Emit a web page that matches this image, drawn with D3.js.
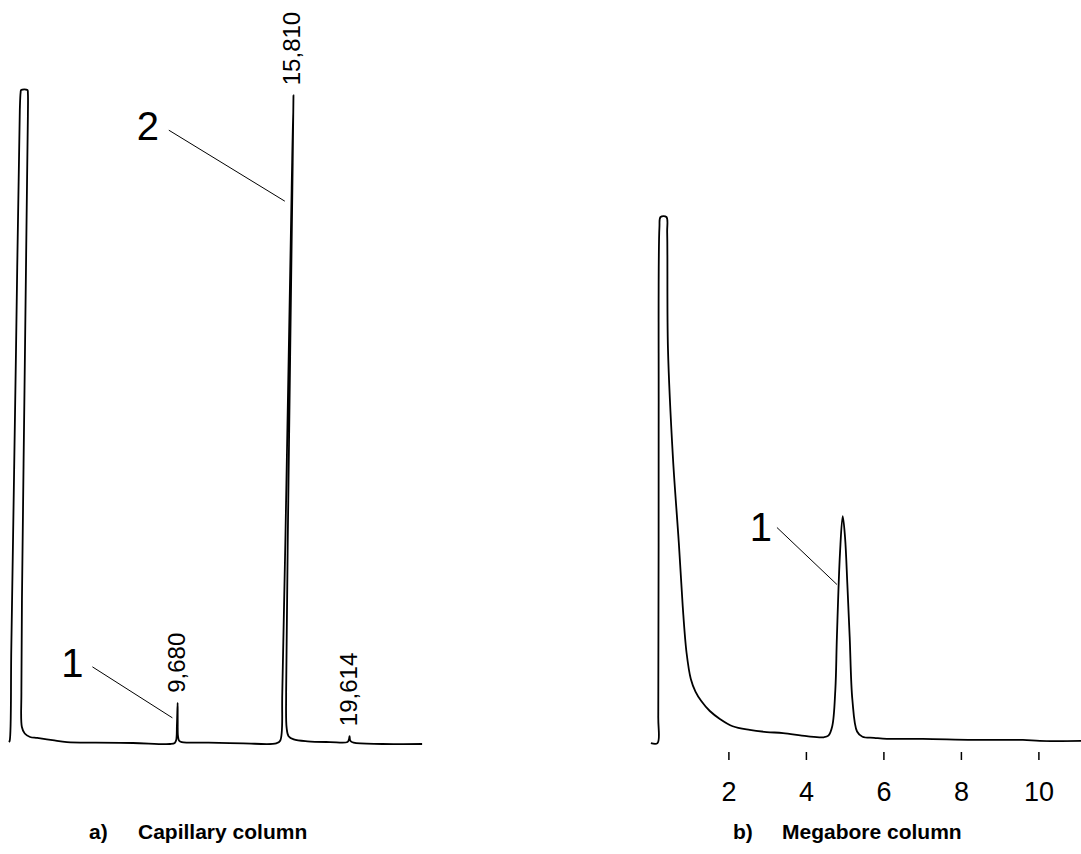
<!DOCTYPE html>
<html>
<head>
<meta charset="utf-8">
<script src="https://cdn.jsdelivr.net/npm/d3@7"></script>
<style>
    body { margin: 0; background: #fff; }
    svg text { font-family: Arial, "Liberation Sans", sans-serif; fill: #000; }
    .trace { fill: none; stroke: #000; stroke-width: 1.8; stroke-linejoin: round; }
    .leader { stroke: #000; stroke-width: 1; }
    .peak-number { font-size: 40px; text-anchor: middle; }
    .peak-time { font-size: 24px; }
    .axis text { font-size: 27px; }
    .axis line { stroke: #000; stroke-width: 1.5; }
    .caption { font-size: 21px; font-weight: bold; }
</style>
</head>
<body>
<div id="chart"></div>
<script>

// a) capillary column: retention time (min) / detector signal (% of scale)
const capTime = [0.00, 0.04, 0.05, 0.055, 0.06, 0.09, 0.12, 0.48, 0.51, 0.53, 0.54, 0.58, 0.62, 0.67, 0.73,
    0.90, 1.21, 1.62, 2.50, 3.34, 5.00, 7.14, 9.28, 9.55, 9.63, 9.66, 9.68, 9.70, 9.73, 9.80, 9.95,
    11.5, 13.5, 15.40, 15.62, 15.70, 15.75, 15.79, 15.81, 15.83, 15.87, 15.92, 15.98, 16.10, 16.40,
    17.2, 18.5, 19.50, 19.58, 19.614, 19.66, 19.85, 21.5, 23.8];
const capSignal = [0.3, 0.5, 15, 60, 97, 99.6, 100, 100, 99.5, 96, 86, 54, 22, 8, 2.6,
    1.6, 1.07, 0.92, 0.6, 0.3, 0.2, 0.15, 0.0, 0.15, 0.6, 3.0, 6.3, 3.5, 1.2, 0.5, 0.3,
    0.2, 0.1, 0.1, 0.5, 8, 40, 85, 99.2, 85, 40, 8, 2.5, 1.2, 0.7,
    0.4, 0.3, 0.3, 0.7, 1.2, 0.5, 0.2, 0.0, 0.0];
const capPeakTime = [9.680, 15.810, 19.614];
const capPeakLabel = ["9,680", "15,810", "19,614"];
const capNumberLabel = ["1", "2"];
const capNumberTime = [9.68, 15.81];
const capNumberLevel = [4, 83];

// b) megabore column: time (min) / detector signal (% of scale)
const megTime = [0.00, 0.17, 0.19, 0.20, 0.22, 0.25, 0.40, 0.42, 0.44, 0.57, 0.72, 0.82, 0.92, 1.03, 1.15, 1.30,
    1.52, 1.78, 2.11, 2.55, 2.99, 3.41, 4.02, 4.46, 4.58, 4.68, 4.76, 4.80, 4.88, 4.95, 5.01, 5.07,
    5.13, 5.20, 5.32, 5.46, 5.76, 6.09, 7.02, 8.31, 9.60, 10.04, 11.1];
const megSignal = [-0.2, -0.2, 5, 60, 98, 100, 100, 97, 75, 54, 38, 26, 17, 12, 9.6, 7.8,
    5.9, 4.4, 3.0, 2.3, 1.9, 1.7, 1.1, 0.9, 1.2, 3, 10, 20, 36, 43, 39, 30,
    20, 8, 2, 1.0, 0.8, 0.6, 0.6, 0.4, 0.4, 0.2, 0.2];
const megTicks = [2, 4, 6, 8, 10];
const megNumberLabel = ["1"];
const megNumberTime = [4.84];
const megNumberLevel = [30];

const captions = [
    {tag: "a)", text: "Capillary column", x: 89},
    {tag: "b)", text: "Megabore column", x: 733}
];


class Chromatogram {

    constructor(svg, opts) {
        this.svg = svg;
        this.opts = opts;
        this.initVis();
    }

    initVis() {
        let vis = this;
        let o = vis.opts;

        vis.x = d3.scaleLinear().domain(o.xDomain).range(o.xRange);
        vis.y = d3.scaleLinear().domain([0, 100]).range(o.yRange);

        // strip-chart pen moves on an arc -> trace leans right as it rises
        vis.px = (t, s) => vis.x(t) + o.skew * (vis.y(0) - vis.y(s));

        vis.g = vis.svg.append("g").attr("class", "chromatogram");

        let pts = o.time.map((t, i) => ({t: t, s: o.signal[i]}));

        let line = d3.line()
            .x(d => vis.px(d.t, d.s))
            .y(d => vis.y(d.s))
            .curve(d3.curveCatmullRom.alpha(0.5));

        vis.g.append("path")
            .datum(pts)
            .attr("class", "trace")
            .attr("d", line);

        // numbered peaks with leader lines
        o.numbers.forEach(n => {
            let ex = vis.px(n.t, n.s) + n.gap;
            let ey = vis.y(n.s);
            let sx = ex + n.dx, sy = ey + n.dy;
            vis.g.append("line")
                .attr("class", "leader")
                .attr("x1", sx).attr("y1", sy)
                .attr("x2", ex).attr("y2", ey);
            vis.g.append("text")
                .attr("class", "peak-number")
                .attr("x", sx + n.lx)
                .attr("y", sy + n.ly)
                .text(n.label);
        });

        // retention times printed by the integrator
        (o.peakTimes || []).forEach((t, i) => {
            let idx = d3.minIndex(o.time, v => Math.abs(v - t));
            let s = o.signal[idx];
            vis.g.append("text")
                .attr("class", "peak-time")
                .attr("transform", `translate(${vis.px(t, s) + 7}, ${vis.y(s) - 10}) rotate(-90)`)
                .text(o.peakLabels[i]);
        });

        if (o.ticks) {
            let axis = d3.axisBottom(vis.x)
                .tickValues(o.ticks)
                .tickSize(8)
                .tickPadding(22)
                .tickFormat(d3.format("d"));
            let ag = vis.g.append("g")
                .attr("class", "axis")
                .attr("transform", `translate(0, ${o.axisY})`)
                .call(axis);
            ag.select(".domain").remove();
            ag.selectAll("text").attr("font-family", null).attr("font-size", null);
        }
    }
}

let svg = d3.select("#chart").append("svg")
    .attr("width", 1081)
    .attr("height", 854);

new Chromatogram(svg, {
    time: capTime, signal: capSignal,
    xDomain: [0, 23.8], xRange: [8.95, 8.95 + 17.36 * 23.8],
    yRange: [744, 90],
    skew: 0.0155,
    peakTimes: capPeakTime, peakLabels: capPeakLabel,
    numbers: [
        {label: capNumberLabel[0], t: capNumberTime[0], s: capNumberLevel[0], gap: -5, dx: -80, dy: -51, lx: -20, ly: 10},
        {label: capNumberLabel[1], t: capNumberTime[1], s: capNumberLevel[1], gap: -7, dx: -116, dy: -71, lx: -21, ly: 10}
    ]
});

new Chromatogram(svg, {
    time: megTime, signal: megSignal,
    xDomain: [0, 11.1], xRange: [650.9, 650.9 + 38.75 * 11.1],
    yRange: [742, 217],
    skew: 0,
    ticks: megTicks, axisY: 752,
    numbers: [
        {label: megNumberLabel[0], t: megNumberTime[0], s: megNumberLevel[0], gap: -1.5, dx: -60, dy: -57, lx: -16, ly: 13}
    ]
});

// captions under each panel
captions.forEach(c => {
    let t = svg.append("text")
        .attr("class", "caption")
        .attr("y", 839);
    t.append("tspan").attr("x", c.x).text(c.tag);
    t.append("tspan").attr("x", c.x + 49).text(c.text);
});

</script>
</body>
</html>
